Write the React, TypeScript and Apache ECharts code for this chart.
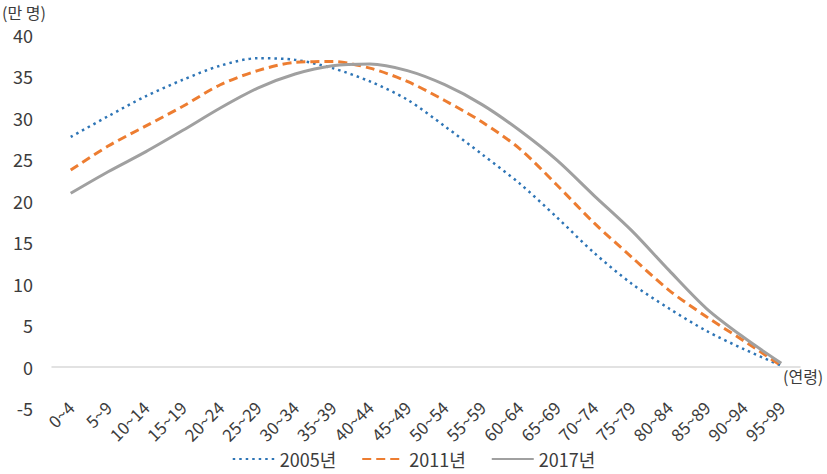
import React, { useEffect, useRef } from "react";
import * as echarts from "echarts";

const categories = ["0~4", "5~9", "10~14", "15~19", "20~24", "25~29", "30~34", "35~39", "40~44", "45~49", "50~54", "55~59", "60~64", "65~69", "70~74", "75~79", "80~84", "85~89", "90~94", "95~99"];
const s2005 = [27.7, 30.2, 32.6, 34.6, 36.3, 37.2, 37.0, 36.0, 34.4, 32.2, 29.0, 25.6, 22.1, 18.0, 13.7, 10.0, 7.0, 4.3, 2.1, 0.1];
const s2011 = [23.7, 26.6, 29.0, 31.4, 34.0, 35.7, 36.7, 36.8, 36.0, 34.4, 32.1, 29.5, 26.3, 21.9, 17.3, 13.2, 9.2, 6.0, 3.1, 0.1];
const s2017 = [20.9, 23.5, 25.9, 28.5, 31.2, 33.6, 35.3, 36.3, 36.5, 35.7, 34.0, 31.6, 28.5, 24.9, 20.6, 16.4, 11.6, 7.0, 3.5, 0.4];
const seriesNames = ["2005년", "2011년", "2017년"];
const yMin = -5;
const yMax = 40;
const yInterval = 5;

const FONT = "'Noto Sans CJK KR', 'Noto Sans', sans-serif";
const TEXT = "#3c3c3c";

export default function App() {
  const ref = useRef<HTMLDivElement>(null);
  useEffect(() => {
    if (!ref.current) return;
    const chart = echarts.init(ref.current, undefined, { renderer: "svg" });
    chart.setOption({
      animation: false,
      textStyle: { fontFamily: FONT },
      grid: { left: 52, right: 27, top: 35, bottom: 66, containLabel: false },
      legend: {
        bottom: 1,
        left: "center",
        itemWidth: 42,
        itemHeight: 14,
        itemGap: 25,
        itemStyle: { opacity: 0 },
        textStyle: { fontSize: 18, color: TEXT, fontFamily: FONT },
        data: seriesNames,
      },
      graphic: [
        { type: "text", left: 2, top: 4, style: { text: "(만 명)", fontSize: 16, fill: TEXT, fontFamily: FONT } },
        { type: "text", left: 783, top: 368, style: { text: "(연령)", fontSize: 16, fill: TEXT, fontFamily: FONT } },
      ],
      xAxis: {
        type: "category",
        data: categories,
        boundaryGap: true,
        axisLine: { onZero: true, lineStyle: { color: "#d9d9d9", width: 1.5 } },
        axisTick: { show: false },
        axisLabel: { rotate: 45, fontSize: 17, color: TEXT, margin: -4, interval: 0, fontFamily: FONT },
      },
      yAxis: {
        type: "value",
        min: yMin,
        max: yMax,
        interval: yInterval,
        axisLine: { show: false },
        axisTick: { show: false },
        splitLine: { show: false },
        axisLabel: { fontSize: 18, color: TEXT, margin: 19, fontFamily: FONT },
      },
      series: [
        {
          name: seriesNames[0],
          type: "line",
          data: s2005,
          smooth: 0.3,
          symbol: "none",
          lineStyle: { color: "#2E75B6", width: 2.5, type: [2.5, 4] },
          itemStyle: { color: "#2E75B6" },
        },
        {
          name: seriesNames[1],
          type: "line",
          data: s2011,
          smooth: 0.3,
          symbol: "none",
          lineStyle: { color: "#ED7D31", width: 3, type: [9, 5] },
          itemStyle: { color: "#ED7D31" },
        },
        {
          name: seriesNames[2],
          type: "line",
          data: s2017,
          smooth: 0.3,
          symbol: "none",
          lineStyle: { color: "#A0A0A0", width: 3, type: "solid" },
          itemStyle: { color: "#A0A0A0" },
        },
      ],
    });
    return () => chart.dispose();
  }, []);
  return <div ref={ref} style={{ width: 827, height: 474, position: "absolute", left: 0, top: 0 }} />;
}
